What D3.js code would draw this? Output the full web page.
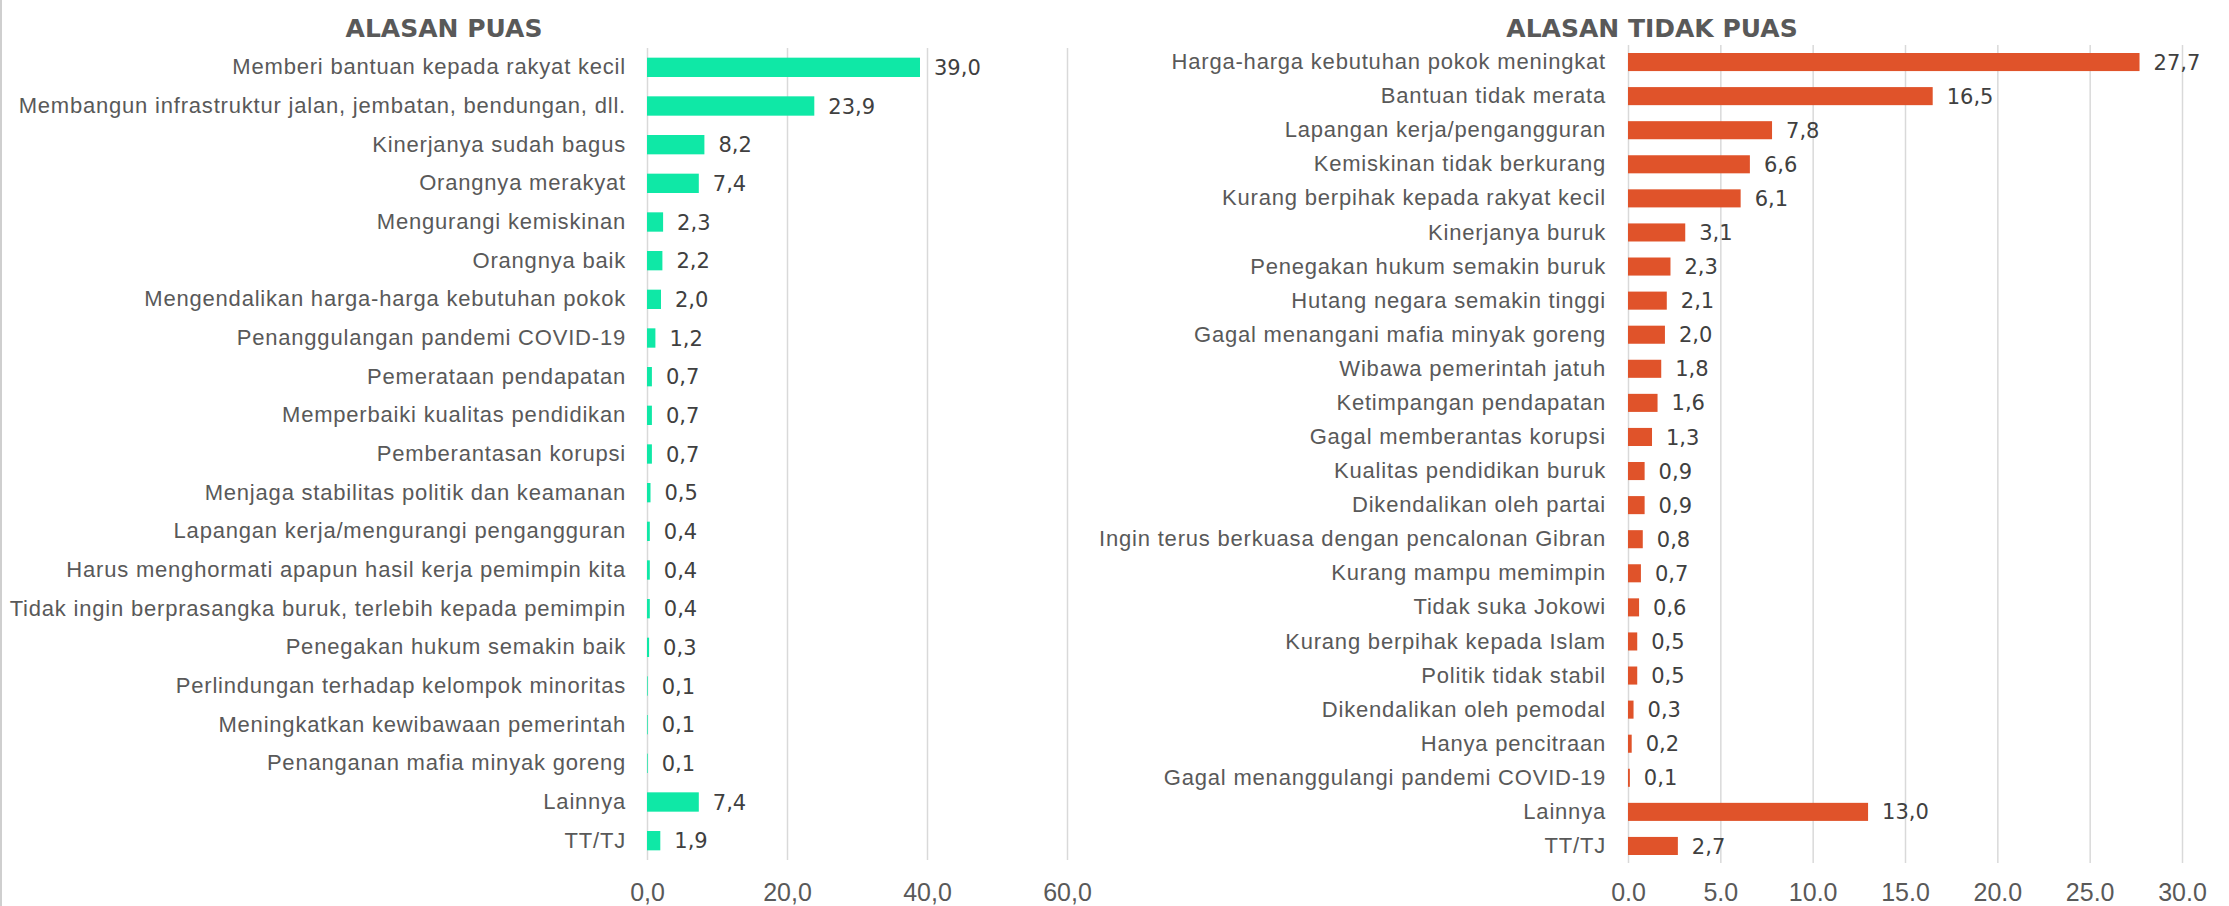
<!DOCTYPE html>
<html>
<head>
<meta charset="utf-8">
<script src="https://cdn.jsdelivr.net/npm/d3@7"></script>
<style>
    body { margin: 0; background: #fff; }
    svg { display: block; font-family: "DejaVu Sans", sans-serif; }
    .grid line { stroke: #d9d9d9; stroke-width: 1.5; }
    .grid .domain { display: none; }
    .cat .domain { display: none; }
    .cat text { fill: #595959; font-size: 22px; letter-spacing: 0.8px; }
    .grid text { fill: #595959; font-size: 25px; }
    .label { fill: #404040; font-size: 21px; }
    .title { fill: #595959; font-size: 25px; font-weight: bold; }
</style>
</head>
<body>
<div id="chart"></div>
<script>
var puasCategories = [
    "Memberi bantuan kepada rakyat kecil",
    "Membangun infrastruktur jalan, jembatan, bendungan, dll.",
    "Kinerjanya sudah bagus",
    "Orangnya merakyat",
    "Mengurangi kemiskinan",
    "Orangnya baik",
    "Mengendalikan harga-harga kebutuhan pokok",
    "Penanggulangan pandemi COVID-19",
    "Pemerataan pendapatan",
    "Memperbaiki kualitas pendidikan",
    "Pemberantasan korupsi",
    "Menjaga stabilitas politik dan keamanan",
    "Lapangan kerja/mengurangi pengangguran",
    "Harus menghormati apapun hasil kerja pemimpin kita",
    "Tidak ingin berprasangka buruk, terlebih kepada pemimpin",
    "Penegakan hukum semakin baik",
    "Perlindungan terhadap kelompok minoritas",
    "Meningkatkan kewibawaan pemerintah",
    "Penanganan mafia minyak goreng",
    "Lainnya",
    "TT/TJ"
];
var puasValues = [39.0, 23.9, 8.2, 7.4, 2.3, 2.2, 2.0, 1.2, 0.7, 0.7, 0.7, 0.5, 0.4, 0.4, 0.4, 0.3, 0.1, 0.1, 0.1, 7.4, 1.9];
var puasTicks = [0, 20, 40, 60];

var tidakPuasCategories = [
    "Harga-harga kebutuhan pokok meningkat",
    "Bantuan tidak merata",
    "Lapangan kerja/pengangguran",
    "Kemiskinan tidak berkurang",
    "Kurang berpihak kepada rakyat kecil",
    "Kinerjanya buruk",
    "Penegakan hukum semakin buruk",
    "Hutang negara semakin tinggi",
    "Gagal menangani mafia minyak goreng",
    "Wibawa pemerintah jatuh",
    "Ketimpangan pendapatan",
    "Gagal memberantas korupsi",
    "Kualitas pendidikan buruk",
    "Dikendalikan oleh partai",
    "Ingin terus berkuasa dengan pencalonan Gibran",
    "Kurang mampu memimpin",
    "Tidak suka Jokowi",
    "Kurang berpihak kepada Islam",
    "Politik tidak stabil",
    "Dikendalikan oleh pemodal",
    "Hanya pencitraan",
    "Gagal menanggulangi pandemi COVID-19",
    "Lainnya",
    "TT/TJ"
];
var tidakPuasValues = [27.7, 16.5, 7.8, 6.6, 6.1, 3.1, 2.3, 2.1, 2.0, 1.8, 1.6, 1.3, 0.9, 0.9, 0.8, 0.7, 0.6, 0.5, 0.5, 0.3, 0.2, 0.1, 13.0, 2.7];
var tidakPuasTicks = [0, 5, 10, 15, 20, 25, 30];

var width = 2229,
    height = 906;

var svg = d3.select("#chart").append("svg")
    .attr("width", width)
    .attr("height", height);

// thin frame line on the left edge
svg.append("line")
    .attr("x1", 1).attr("x2", 1)
    .attr("y1", 0).attr("y2", height)
    .style("stroke", "#bfbfbf")
    .style("stroke-width", 1.5);

var comma = function (v) {
    return d3.format(".1f")(v).replace(".", ",");
};

function barPanel(opt) {
    var data = opt.categories.map(function (c, i) {
        return { cat: c, value: opt.values[i] };
    });

    var x = d3.scaleLinear()
        .domain(opt.domain)
        .range([opt.left, opt.right]);

    var y = d3.scaleBand()
        .domain(opt.categories)
        .range([opt.top, opt.bottom])
        .paddingInner(opt.padding)
        .paddingOuter(opt.padding / 2);

    // vertical gridlines + tick labels under the plot
    svg.append("g")
        .attr("class", "grid")
        .attr("transform", "translate(0," + opt.bottom + ")")
        .call(d3.axisBottom(x)
            .tickValues(opt.ticks)
            .tickSize(-(opt.bottom - opt.top))
            .tickPadding(opt.tickPad)
            .tickFormat(opt.tickFormat));

    // category names, no tick marks
    svg.append("g")
        .attr("class", "cat")
        .attr("transform", "translate(" + opt.left + ",0)")
        .call(d3.axisLeft(y).tickSize(0).tickPadding(opt.catPad));

    var bars = svg.append("g").selectAll(".bar")
        .data(data)
        .enter()
        .append("g");

    bars.append("rect")
        .attr("class", "bar")
        .attr("x", x(0))
        .attr("y", function (d) { return y(d.cat); })
        .attr("height", y.bandwidth())
        .attr("width", function (d) { return x(d.value) - x(0); })
        .style("fill", opt.color);

    // value to the right of each bar
    bars.append("text")
        .attr("class", "label")
        .attr("x", function (d) { return x(d.value) + 14; })
        .attr("y", function (d) { return y(d.cat) + y.bandwidth() / 2; })
        .attr("dy", "0.36em")
        .text(function (d) { return comma(d.value); });

    svg.append("text")
        .attr("class", "title")
        .attr("x", opt.titleX)
        .attr("y", 37)
        .attr("text-anchor", "middle")
        .text(opt.title);
}

barPanel({
    title: "ALASAN PUAS",
    titleX: 444,
    categories: puasCategories,
    values: puasValues,
    ticks: puasTicks,
    tickFormat: comma,
    domain: [0, 60],
    left: 647, right: 1067,
    top: 48, bottom: 860,
    padding: 0.5,
    tickPad: 23,
    catPad: 21,
    color: "#0fe8a6"
});

barPanel({
    title: "ALASAN TIDAK PUAS",
    titleX: 1652,
    categories: tidakPuasCategories,
    values: tidakPuasValues,
    ticks: tidakPuasTicks,
    tickFormat: d3.format(".1f"),
    domain: [0, 30],
    left: 1628, right: 2182,
    top: 45, bottom: 863,
    padding: 0.47,
    tickPad: 20,
    catPad: 22,
    color: "#e0532a"
});
</script>
</body>
</html>
